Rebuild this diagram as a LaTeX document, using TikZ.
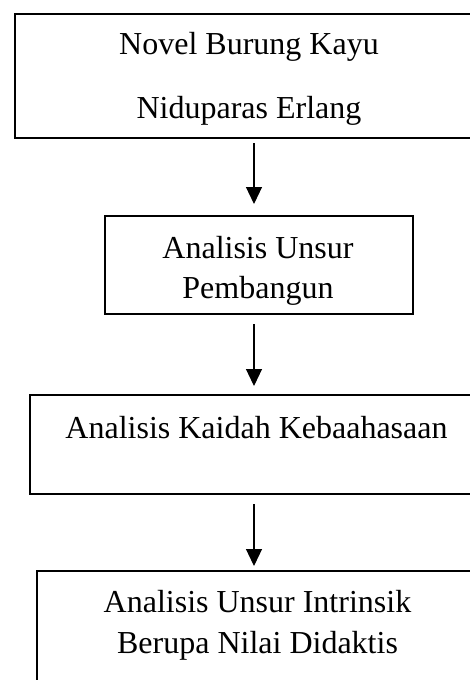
\documentclass[tikz,border=0pt]{standalone}
\usepackage{fontspec}
\setmainfont{Liberation Serif}
\usetikzlibrary{arrows.meta}
\begin{document}
\begin{tikzpicture}[x=1pt,y=-1pt,
  boxstyle/.style={draw, line width=2.2pt, rectangle, inner sep=0pt, anchor=north west},
  txt/.style={font=\fontsize{32}{38}\selectfont, anchor=base, inner sep=0pt},
  arr/.style={line width=1.2pt, -{Triangle[width=16pt,length=17pt]}}]
\path[use as bounding box] (0,0) rectangle (470,680);
\clip (0,0) rectangle (470,680);
% boxes
\node[boxstyle, minimum width=480pt, minimum height=124pt] (b1) at (13.5,12.5) {};
\node[boxstyle, minimum width=308pt, minimum height=98pt] (b2) at (104,215) {};
\node[boxstyle, minimum width=470pt, minimum height=99pt] (b3) at (29,394) {};
\node[boxstyle, minimum width=460pt, minimum height=140pt] (b4) at (36,570) {};
% texts
\node[txt] (t1a) at (249,54) {Novel Burung Kayu};
\node[txt] (t1b) at (249,118) {Niduparas Erlang};
\node[txt] (t2a) at (258,258) {Analisis Unsur};
\node[txt] (t2b) at (258,298) {Pembangun};
\node[txt] (t3) at (256.5,438) {Analisis Kaidah Kebaahasaan};
\node[txt] (t4a) at (257.5,612) {Analisis Unsur Intrinsik};
\node[txt] (t4b) at (257.5,653) {Berupa Nilai Didaktis};
% connectors
\coordinate (a1s) at (254,143);
\coordinate (a1e) at (254,204);
\coordinate (a2s) at (254,324);
\coordinate (a2e) at (254,386);
\coordinate (a3s) at (254,504);
\coordinate (a3e) at (254,566);
\draw[arr] (a1s) -- (a1e);
\draw[arr] (a2s) -- (a2e);
\draw[arr] (a3s) -- (a3e);
\end{tikzpicture}
\end{document}
